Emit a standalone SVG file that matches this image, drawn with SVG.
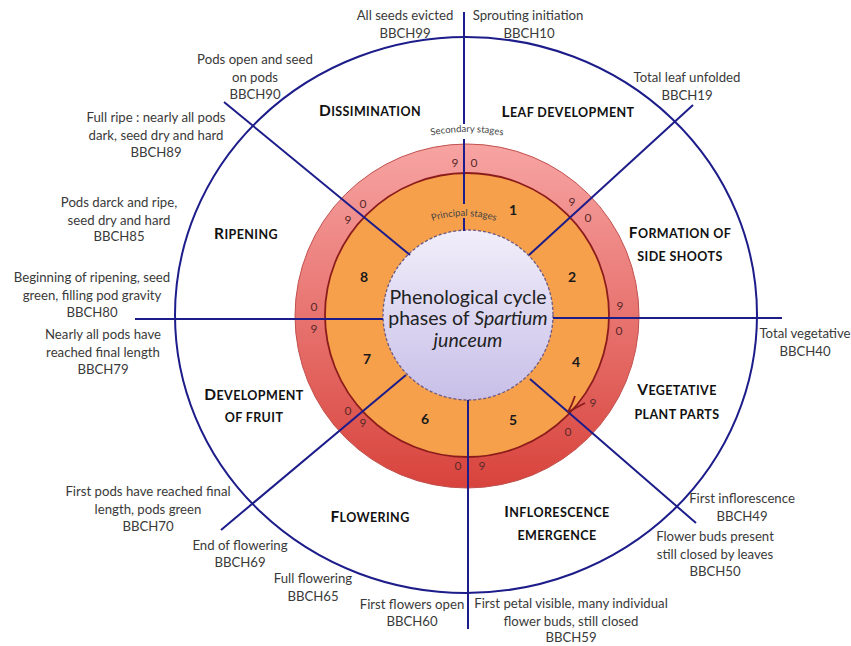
<svg xmlns="http://www.w3.org/2000/svg" width="851" height="646" viewBox="0 0 851 646">
<defs>
<style>
.ann{font-family:Lato,"Liberation Sans",sans-serif;font-size:13.2px;fill:#3a3a3a;text-anchor:middle}
.lbl{font-family:Lato,"Liberation Sans",sans-serif;font-size:12.5px;font-weight:bold;fill:#111;text-anchor:middle;letter-spacing:0.4px}
.cap{font-size:15.5px}
.num{font-family:Lato,"Liberation Sans",sans-serif;font-size:12px;fill:#5a2a2a;text-anchor:middle}
.ph{font-family:Lato,"Liberation Sans",sans-serif;font-size:14px;font-weight:bold;fill:#1a1a1a;text-anchor:middle}
.small{font-family:Lato,"Liberation Sans",sans-serif;font-size:9.5px;fill:#444;text-anchor:middle}
.ctr{font-family:Lato,"Liberation Sans",sans-serif;font-size:19.5px;fill:#222;text-anchor:middle}
.ln{stroke:#1c1c8a;stroke-width:2;fill:none}
</style>
<linearGradient id="redg" x1="0" y1="0" x2="0" y2="1">
<stop offset="0" stop-color="#f7a4a3"/>
<stop offset="1" stop-color="#d8433c"/>
</linearGradient>
<linearGradient id="cg" x1="0" y1="0" x2="0" y2="1">
<stop offset="0" stop-color="#f1eefa"/>
<stop offset="1" stop-color="#c8bfe8"/>
</linearGradient>
<path id="secArc" d="M419.4 138.3 A184 184 0 0 1 514.6 138.3"/>
<path id="priArc" d="M416.6 227.8 A101 101 0 0 1 511.4 227.8"/>
</defs>
<rect width="851" height="646" fill="#fff"/>
<g id="outer">
<ellipse cx="466" cy="315" rx="291" ry="278" class="ln"/>
</g>
<g id="ring-secondary">
<circle cx="467" cy="316" r="172" fill="url(#redg)" stroke="#c0504d" stroke-width="1"/>
</g>
<g id="ring-principal">
<circle cx="467" cy="315" r="142" fill="#f6a04c" stroke="#8b1c1c" stroke-width="1.8"/>
</g>
<g id="center">
<circle cx="468" cy="315" r="85" fill="url(#cg)" stroke="#6a5a86" stroke-width="1.3" stroke-dasharray="3 2"/>
<text class="ctr" x="468" y="304">Phenological cycle</text>
<text class="ctr" x="468" y="325">phases of <tspan font-style="italic">Spartium</tspan></text>
<text class="ctr" x="468" y="347" font-style="italic">junceum</text>
</g>
<g id="connectors">
<path class="ln" d="M464 12V124M464 139V204M464 218V231"/>
<path class="ln" d="M224 102L410 255"/>
<path class="ln" d="M693 105L529 255"/>
<path class="ln" d="M135 319H383"/>
<path class="ln" d="M553 318H782"/>
<path class="ln" d="M530 379L696 523"/>
<path class="ln" d="M468 400V629"/>
<path class="ln" d="M406 375L221 530"/>
<path d="M575 396Q572 405 568 412L585 403" stroke="#8b1c1c" stroke-width="1.8" fill="none" stroke-linejoin="round"/>
</g>
<g id="secondary-numbers">
<text class="num" x="455" y="167">9</text><text class="num" x="474" y="167">0</text>
<text class="num" x="363" y="208">0</text><text class="num" x="348" y="224">9</text>
<text class="num" x="572" y="206">9</text><text class="num" x="588" y="222">0</text>
<text class="num" x="620" y="310">9</text><text class="num" x="619" y="335">0</text>
<text class="num" x="593" y="407">9</text><text class="num" x="568" y="436">0</text>
<text class="num" x="458" y="470">0</text><text class="num" x="482" y="470">9</text>
<text class="num" x="348" y="415">0</text><text class="num" x="363" y="427">9</text>
<text class="num" x="314" y="311">0</text><text class="num" x="314" y="333">9</text>
<text class="small"><textPath href="#secArc" startOffset="50%">Secondary stages</textPath></text>
</g>
<g id="principal-numbers">
<text class="ph" x="513" y="215">1</text>
<text class="ph" x="572" y="282">2</text>
<text class="ph" x="576" y="367">4</text>
<text class="ph" x="513" y="425">5</text>
<text class="ph" x="425" y="424">6</text>
<text class="ph" x="367" y="364">7</text>
<text class="ph" x="364" y="282">8</text>
<text class="small"><textPath href="#priArc" startOffset="50%">Principal stages</textPath></text>
</g>
<g id="phase-labels">
<text class="lbl" x="370" y="116"><tspan class="cap">D</tspan>ISSIMINATION</text>
<text class="lbl" x="568" y="117"><tspan class="cap">L</tspan>EAF DEVELOPMENT</text>
<text class="lbl" x="680" y="238"><tspan class="cap">F</tspan>ORMATION OF</text>
<text class="lbl" x="680" y="261">SIDE SHOOTS</text>
<text class="lbl" x="677" y="395"><tspan class="cap">V</tspan>EGETATIVE</text>
<text class="lbl" x="677" y="419">PLANT PARTS</text>
<text class="lbl" x="557" y="517"><tspan class="cap">I</tspan>NFLORESCENCE</text>
<text class="lbl" x="557" y="540">EMERGENCE</text>
<text class="lbl" x="370" y="522"><tspan class="cap">F</tspan>LOWERING</text>
<text class="lbl" x="254" y="400"><tspan class="cap">D</tspan>EVELOPMENT</text>
<text class="lbl" x="254" y="422">OF FRUIT</text>
<text class="lbl" x="246" y="239"><tspan class="cap">R</tspan>IPENING</text>
</g>
<g id="annotations">
<text class="ann" x="405" y="20">All seeds evicted</text><text class="ann" x="405" y="38">BBCH99</text>
<text class="ann" x="528" y="20">Sprouting initiation</text><text class="ann" x="529" y="38">BBCH10</text>
<text class="ann" x="255" y="64">Pods open and seed</text><text class="ann" x="255" y="82">on pods</text><text class="ann" x="255" y="99">BBCH90</text>
<text class="ann" x="156" y="122">Full ripe : nearly all pods</text><text class="ann" x="156" y="140">dark, seed dry and hard</text><text class="ann" x="156" y="157">BBCH89</text>
<text class="ann" x="687" y="82">Total leaf unfolded</text><text class="ann" x="687" y="100">BBCH19</text>
<text class="ann" x="119" y="207">Pods darck and ripe,</text><text class="ann" x="119" y="225">seed dry and hard</text><text class="ann" x="119" y="241">BBCH85</text>
<text class="ann" x="92" y="282">Beginning of ripening, seed</text><text class="ann" x="92" y="300">green, filling pod gravity</text><text class="ann" x="92" y="317">BBCH80</text>
<text class="ann" x="103" y="339">Nearly all pods have</text><text class="ann" x="103" y="357">reached final length</text><text class="ann" x="103" y="374">BBCH79</text>
<text class="ann" x="805" y="338">Total vegetative</text><text class="ann" x="805" y="356">BBCH40</text>
<text class="ann" x="742" y="503">First inflorescence</text><text class="ann" x="742" y="521">BBCH49</text>
<text class="ann" x="715" y="541">Flower buds present</text><text class="ann" x="715" y="559">still closed by leaves</text><text class="ann" x="715" y="576">BBCH50</text>
<text class="ann" x="571" y="608">First petal visible, many individual</text><text class="ann" x="571" y="626">flower buds, still closed</text><text class="ann" x="571" y="642">BBCH59</text>
<text class="ann" x="412" y="609">First flowers open</text><text class="ann" x="412" y="626">BBCH60</text>
<text class="ann" x="313" y="583">Full flowering</text><text class="ann" x="313" y="601">BBCH65</text>
<text class="ann" x="240" y="550">End of flowering</text><text class="ann" x="240" y="567">BBCH69</text>
<text class="ann" x="148" y="496">First pods have reached final</text><text class="ann" x="148" y="514">length, pods green</text><text class="ann" x="148" y="531">BBCH70</text>
</g>
</svg>
